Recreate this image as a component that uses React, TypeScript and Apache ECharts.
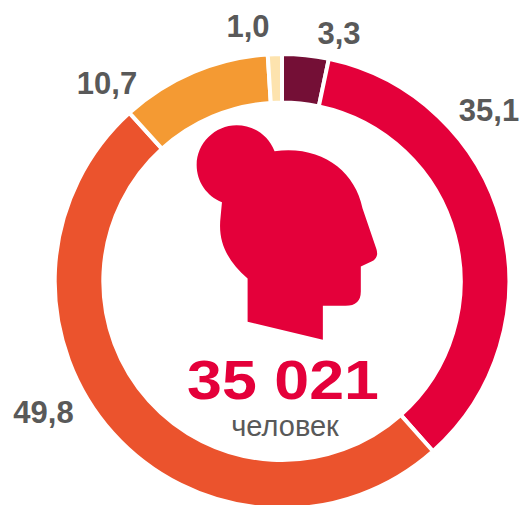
import React, { useEffect, useRef } from "react";
import * as echarts from "echarts";

const categories = ["A", "B", "C", "D", "E"];
const values = [3.3, 35.1, 49.8, 10.7, 1.0];
const colors = ["#740F36", "#E4003A", "#EB532D", "#F49A33", "#FDE3AE"];
const totalText = "35 021";
const unitText = "человек";
const labelSpots = [[339, 33], [489, 110], [43.5, 412], [107, 83], [248, 26.5]];

const personPath =
  "M284 124C420 105 525 180 548 295L590 418Q598 445 575 455L543 470L543 545Q543 588 497 588L429 588L429 690L203 636L203 506C145 455 112 400 122 320L126 277C80 258 50 215 50 165C50 100 105 46 170 46C220 46 265 75 284 124Z";

echarts.graphic.registerShape("person", echarts.graphic.extendPath(personPath, {}) as any);

export default function App() {
  const ref = useRef<HTMLDivElement>(null);
  useEffect(() => {
    const chart = echarts.init(ref.current!, undefined, { renderer: "svg" });
    chart.setOption({
      animation: false,
      backgroundColor: "#fff",
      color: colors,
      series: [
        {
          type: "pie",
          center: [282, 281.3],
          radius: [178.7, 227.3],
          startAngle: 90,
          clockwise: true,
          silent: true,
          itemStyle: { borderColor: "#fff", borderWidth: 4 },
          label: {
            show: true,
            position: "outside",
            overflow: "none",
            formatter: (p: any) => p.value.toFixed(1).replace(".", ","),
            fontFamily: "Liberation Sans",
            fontWeight: "bold",
            fontSize: 31,
            color: "#595959",
          },
          labelLine: { show: false },
          labelLayout: (p: any) => ({
            x: labelSpots[p.dataIndex][0],
            y: labelSpots[p.dataIndex][1],
            align: "center",
            verticalAlign: "middle",
          }),
          data: categories.map((name, i) => ({ name, value: values[i] })),
        },
      ],
      graphic: [
        {
          type: "person",
          x: 180,
          y: 110,
          scaleX: 1 / 3,
          scaleY: 1 / 3,
          style: { fill: "#E4003A" },
        },
        {
          type: "text",
          x: 283,
          y: 380,
          scaleX: 1.12,
          style: {
            text: totalText,
            fill: "#E4003A",
            font: 'bold 56px "Liberation Sans"',
            align: "center",
            verticalAlign: "middle",
          },
        },
        {
          type: "text",
          x: 285,
          y: 426,
          style: {
            text: unitText,
            fill: "#595959",
            font: '29px "Liberation Sans"',
            align: "center",
            verticalAlign: "middle",
          },
        },
      ],
    });
    return () => chart.dispose();
  }, []);
  return (
    <div
      ref={ref}
      style={{ position: "fixed", left: 0, top: 0, width: 523, height: 505 }}
    />
  );
}
